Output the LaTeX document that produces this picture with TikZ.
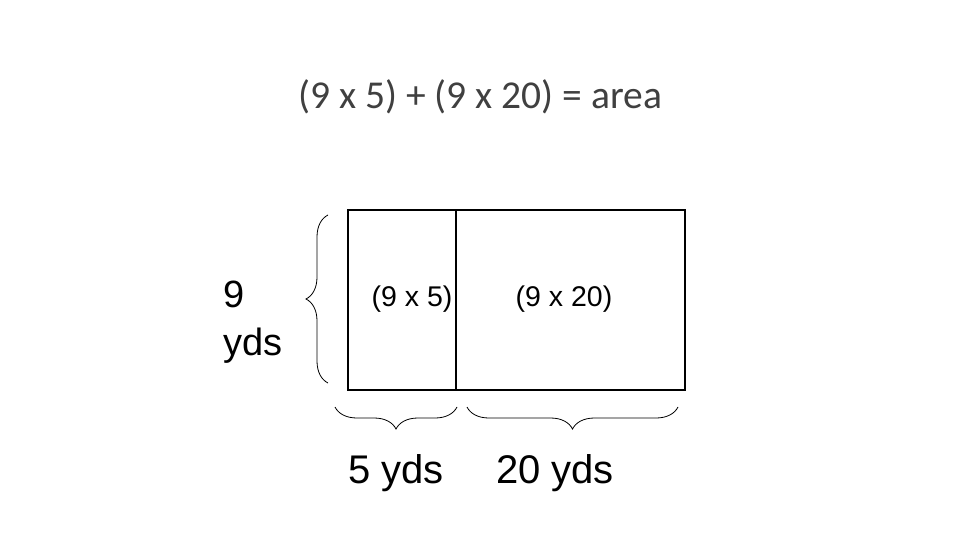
\documentclass[tikz,border=0pt]{standalone}
\usepackage{fontspec}
\setmainfont{Liberation Sans}
\newfontfamily\titlefont{Carlito}
\usetikzlibrary{positioning,decorations.pathreplacing}

\begin{document}
\begin{tikzpicture}[x=1pt, y=-1pt, node distance=0 cm, outer sep = 0pt]

\tikzstyle{field}=[draw, rectangle, line width=1.2pt, minimum height=180pt, anchor=north west, inner sep=0pt]
\tikzstyle{curly}=[draw, line width=0.8pt, decorate, decoration={brace, amplitude=22pt}]
\tikzstyle{lbl}=[inner sep=0pt, anchor=center]

\useasboundingbox (0,0) rectangle (960,540);

\node[lbl, text=black!75, font=\titlefont\fontsize{39.5}{46}\selectfont] (title) at (480,97) {(9 x 5) + (9 x 20) = area};

\node[field, minimum width=108pt] (small) at (348,210) {};
\node[field, minimum width=229pt, right=of small] (big) {};

\node[lbl, font=\fontsize{28.5}{34}\selectfont] (smallarea) at (412,299) {(9 x 5)};
\node[lbl, font=\fontsize{28.5}{34}\selectfont] (bigarea) at (564,299) {(9 x 20)};

\coordinate (lb1) at (328,383); \coordinate (lb2) at (328,215);
\coordinate (bs1) at (457,407); \coordinate (bs2) at (335,407);
\coordinate (bb1) at (678,407); \coordinate (bb2) at (467,407);

\draw[curly] (lb1) -- (lb2);
\draw[curly] (bs1) -- (bs2);
\draw[curly] (bb1) -- (bb2);

\node[lbl, anchor=west, align=left, font=\fontsize{38}{48}\selectfont] (height) at (223,322) {9\\yds};
\node[lbl, font=\fontsize{40}{46}\selectfont] (width1) at (396,473) {5 yds};
\node[lbl, font=\fontsize{40}{46}\selectfont] (width2) at (555,473) {20 yds};

\end{tikzpicture}
\end{document}
